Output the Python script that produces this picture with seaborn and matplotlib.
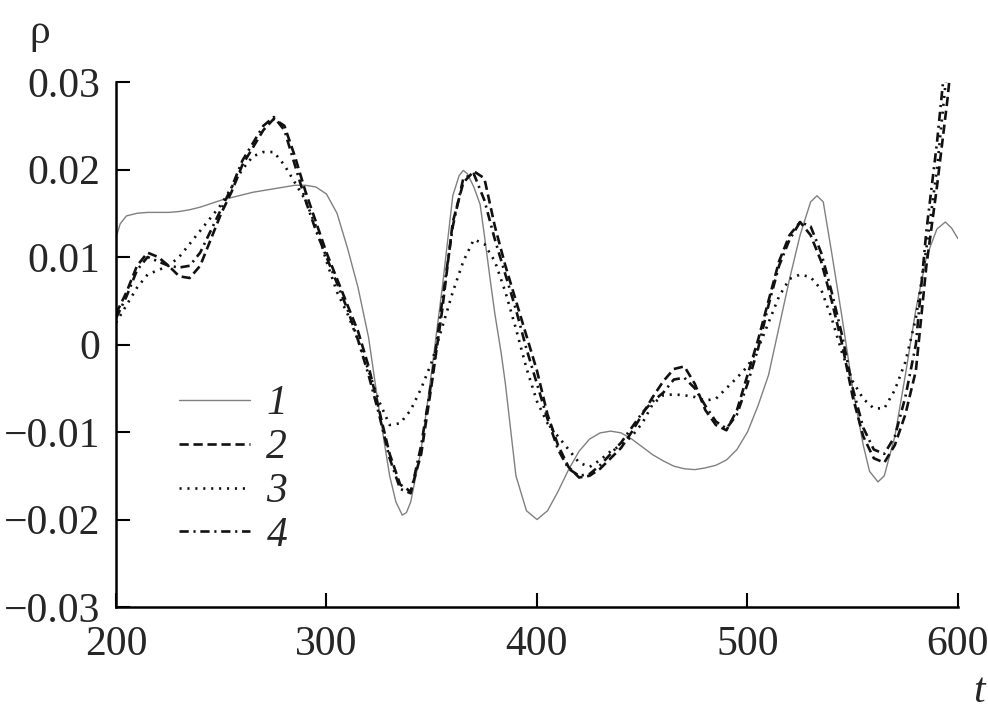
import numpy as np
import pandas as pd
import matplotlib
matplotlib.use('Agg')
import matplotlib.pyplot as plt
import seaborn as sns

# Кривая 1 (сплошная серая)
t1 = [200, 202, 205, 210, 215, 220, 225, 230, 235, 240, 245, 250, 255, 260, 265, 270,
      275, 280, 285, 290, 295, 300, 305, 310, 315, 320, 325, 330, 333, 336, 338, 340,
      345, 350, 355, 360, 363, 365, 367, 370, 373, 375, 378, 380, 383, 385, 390, 395,
      400, 405, 410, 415, 420, 425, 430, 435, 440, 445, 450, 455, 460, 465, 470, 475,
      480, 485, 490, 495, 500, 505, 510, 515, 520, 525, 530, 533, 536, 540, 545, 550,
      555, 558, 562, 565, 570, 575, 580, 585, 590, 594, 597, 600]
rho1 = [0.0122, 0.0138, 0.0147, 0.0150, 0.0151, 0.0151, 0.0151, 0.0152, 0.0154, 0.0157,
        0.0161, 0.0165, 0.0168, 0.0171, 0.0174, 0.0176, 0.0178, 0.0180, 0.0182, 0.0182,
        0.0180, 0.0172, 0.0150, 0.0110, 0.0065, 0.0008, -0.0075, -0.0150, -0.0180, -0.0195,
        -0.0192, -0.0180, -0.0120, -0.0030, 0.0065, 0.0170, 0.0193, 0.0199, 0.0195, 0.0180,
        0.0160, 0.0125, 0.0070, 0.0035, -0.0010, -0.0045, -0.0150, -0.0190, -0.0200, -0.0190,
        -0.0168, -0.0143, -0.0122, -0.0108, -0.0101, -0.0099, -0.0101, -0.0108, -0.0117, -0.0126,
        -0.0133, -0.0139, -0.0142, -0.0143, -0.0141, -0.0138, -0.0132, -0.0120, -0.0100, -0.0070,
        -0.0035, 0.0020, 0.0075, 0.0125, 0.0163, 0.0170, 0.0163, 0.0105, 0.0030, -0.0050,
        -0.0115, -0.0145, -0.0157, -0.0150, -0.0105, -0.0035, 0.0040, 0.0100, 0.0132, 0.0140,
        0.0133, 0.0121]

# Кривые 2, 3, 4 (шаг 5)
t234 = list(range(200, 605, 5))
rho2 = [0.0035, 0.0060, 0.0090, 0.0105, 0.0100, 0.0090, 0.0078, 0.0076, 0.0090, 0.0120,
        0.0150, 0.0175, 0.0205, 0.0225, 0.0245, 0.0258, 0.0250, 0.0215, 0.0175, 0.0140,
        0.0105, 0.0075, 0.0045, 0.0015, -0.0025, -0.0075, -0.0125, -0.0160, -0.0168, -0.0125,
        -0.0045, 0.0040, 0.0140, 0.0185, 0.0198, 0.0190, 0.0135, 0.0090, 0.0050, 0.0010,
        -0.0030, -0.0080, -0.0115, -0.0140, -0.0152, -0.0150, -0.0142, -0.0130, -0.0118, -0.0100,
        -0.0080, -0.0060, -0.0042, -0.0028, -0.0025, -0.0045, -0.0075, -0.0092, -0.0098, -0.0075,
        -0.0035, 0.0005, 0.0050, 0.0095, 0.0125, 0.0140, 0.0125, 0.0095, 0.0050, 0.0000,
        -0.0060, -0.0105, -0.0130, -0.0135, -0.0115, -0.0080, -0.0030, 0.0090, 0.0180, 0.0280,
        0.0400]
rho3 = [0.0025, 0.0045, 0.0065, 0.0080, 0.0085, 0.0090, 0.0100, 0.0115, 0.0130, 0.0145,
        0.0160, 0.0180, 0.0200, 0.0215, 0.0220, 0.0220, 0.0205, 0.0185, 0.0165, 0.0135,
        0.0095, 0.0060, 0.0035, 0.0005, -0.0030, -0.0065, -0.0092, -0.0090, -0.0075, -0.0050,
        -0.0020, 0.0020, 0.0060, 0.0095, 0.0120, 0.0115, 0.0095, 0.0060, 0.0018, -0.0027,
        -0.0065, -0.0090, -0.0105, -0.0120, -0.0135, -0.0140, -0.0132, -0.0122, -0.0115, -0.0105,
        -0.0090, -0.0068, -0.0058, -0.0057, -0.0058, -0.0060, -0.0064, -0.0062, -0.0050, -0.0038,
        -0.0025, -0.0005, 0.0025, 0.0055, 0.0075, 0.0080, 0.0077, 0.0063, 0.0030, -0.0010,
        -0.0042, -0.0062, -0.0073, -0.0073, -0.0052, -0.0020, 0.0030, 0.0110, 0.0200, 0.0320,
        0.0420]
rho4 = [0.0030, 0.0055, 0.0085, 0.0100, 0.0095, 0.0090, 0.0088, 0.0090, 0.0105, 0.0130,
        0.0155, 0.0180, 0.0210, 0.0230, 0.0250, 0.0260, 0.0245, 0.0205, 0.0165, 0.0130,
        0.0100, 0.0070, 0.0040, 0.0005, -0.0035, -0.0080, -0.0130, -0.0165, -0.0170, -0.0115,
        -0.0040, 0.0050, 0.0135, 0.0190, 0.0195, 0.0165, 0.0120, 0.0080, 0.0040, -0.0005,
        -0.0045, -0.0085, -0.0120, -0.0142, -0.0150, -0.0148, -0.0138, -0.0125, -0.0112, -0.0095,
        -0.0078, -0.0065, -0.0055, -0.0040, -0.0038, -0.0050, -0.0070, -0.0088, -0.0096, -0.0080,
        -0.0045, -0.0005, 0.0045, 0.0090, 0.0120, 0.0140, 0.0135, 0.0105, 0.0060, 0.0010,
        -0.0050, -0.0095, -0.0120, -0.0125, -0.0105, -0.0060, 0.0000, 0.0130, 0.0230, 0.0350,
        0.0450]

labels = ['1', '2', '3', '4']
xticks = [200, 300, 400, 500, 600]
yticks = [-0.03, -0.02, -0.01, 0, 0.01, 0.02, 0.03]
yticklabels = ['\u22120.03', '\u22120.02', '\u22120.01', '0', '0.01', '0.02', '0.03']

sns.set_style('ticks')
plt.rcParams['font.family'] = ['Liberation Serif', 'DejaVu Serif']
plt.rcParams['font.size'] = 30

fig = plt.figure(figsize=(9.88, 7.17), dpi=100)
ax = fig.add_axes([0.1174, 0.1534, 0.8522, 0.7322])

sns.lineplot(x=t1, y=rho1, ax=ax, color='#808080', linewidth=1.0, label=labels[0],
             errorbar=None)
sns.lineplot(x=t234, y=rho2, ax=ax, color='#111111', linewidth=1.9,
             linestyle=(0, (3.5, 1.8)), label=labels[1], errorbar=None)
sns.lineplot(x=t234, y=rho3, ax=ax, color='#111111', linewidth=1.9,
             linestyle=(0, (0.8, 2.2)), label=labels[2], errorbar=None)
sns.lineplot(x=t234, y=rho4, ax=ax, color='#111111', linewidth=1.9,
             linestyle=(0, (3.5, 1.8, 0.8, 1.8)), label=labels[3], errorbar=None)

ax.set_xlim(200, 600)
ax.set_ylim(-0.03, 0.03)
ax.set_xticks(xticks)
ax.set_xticklabels([str(v) for v in xticks])
ax.set_yticks(yticks)
ax.set_yticklabels(yticklabels)
ax.tick_params(direction='in', length=10, width=1.5, color='black', labelsize=30)
ax.tick_params(axis='x', pad=13)
ax.tick_params(axis='y', pad=11)
sns.despine(ax=ax)
for s in ['left', 'bottom']:
    ax.spines[s].set_linewidth(1.8)
    ax.spines[s].set_color('black')
ax.set_xlabel('')
ax.set_ylabel('')

fig.text(0.030, 0.955, '\u03c1', fontsize=30, ha='left', va='center')
fig.text(0.997, 0.035, 't', fontsize=30, style='italic', ha='right', va='center')

leg = ax.legend(loc='upper left', bbox_to_anchor=(0.055, 0.455), frameon=False,
                prop={'family': 'Liberation Serif', 'style': 'italic', 'size': 30},
                handlelength=1.7, handletextpad=0.4, labelspacing=0.13,
                borderaxespad=0.0)

fig.savefig('out.png', dpi=100)
